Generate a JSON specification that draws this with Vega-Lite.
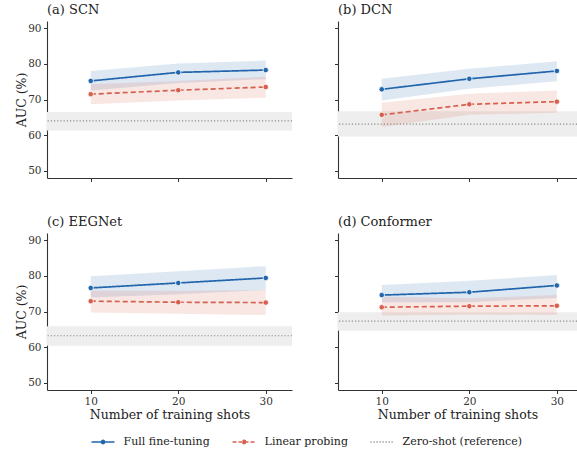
{
  "$schema": "https://vega.github.io/schema/vega-lite/v6.json",
  "padding": {"left": 15, "top": 4, "right": 0, "bottom": 0},
  "background": "white",
  "datasets": {
    "main": [
      {"model": "SCN", "method": "Full fine-tuning", "shots": 10, "mean": 75.2, "lo": 72.5, "hi": 78.0},
      {"model": "SCN", "method": "Full fine-tuning", "shots": 20, "mean": 77.6, "lo": 74.6, "hi": 80.1},
      {"model": "SCN", "method": "Full fine-tuning", "shots": 30, "mean": 78.25, "lo": 75.7, "hi": 80.9},
      {"model": "SCN", "method": "Linear probing", "shots": 10, "mean": 71.5, "lo": 68.65, "hi": 74.25},
      {"model": "SCN", "method": "Linear probing", "shots": 20, "mean": 72.6, "lo": 69.7, "hi": 75.2},
      {"model": "SCN", "method": "Linear probing", "shots": 30, "mean": 73.5, "lo": 70.5, "hi": 76.4},
      {"model": "DCN", "method": "Full fine-tuning", "shots": 10, "mean": 72.85, "lo": 69.7, "hi": 75.8},
      {"model": "DCN", "method": "Full fine-tuning", "shots": 20, "mean": 75.8, "lo": 73.0, "hi": 78.6},
      {"model": "DCN", "method": "Full fine-tuning", "shots": 30, "mean": 78.0, "lo": 75.1, "hi": 80.7},
      {"model": "DCN", "method": "Linear probing", "shots": 10, "mean": 65.7, "lo": 62.3, "hi": 69.1},
      {"model": "DCN", "method": "Linear probing", "shots": 20, "mean": 68.65, "lo": 65.7, "hi": 71.6},
      {"model": "DCN", "method": "Linear probing", "shots": 30, "mean": 69.4, "lo": 66.3, "hi": 72.5},
      {"model": "EEGNet", "method": "Full fine-tuning", "shots": 10, "mean": 76.6, "lo": 73.9, "hi": 79.9},
      {"model": "EEGNet", "method": "Full fine-tuning", "shots": 20, "mean": 78.0, "lo": 74.8, "hi": 81.3},
      {"model": "EEGNet", "method": "Full fine-tuning", "shots": 30, "mean": 79.4, "lo": 76.0, "hi": 82.7},
      {"model": "EEGNet", "method": "Linear probing", "shots": 10, "mean": 72.9, "lo": 69.7, "hi": 75.8},
      {"model": "EEGNet", "method": "Linear probing", "shots": 20, "mean": 72.6, "lo": 69.4, "hi": 75.8},
      {"model": "EEGNet", "method": "Linear probing", "shots": 30, "mean": 72.5, "lo": 69.0, "hi": 76.0},
      {"model": "Conformer", "method": "Full fine-tuning", "shots": 10, "mean": 74.6, "lo": 72.6, "hi": 77.4},
      {"model": "Conformer", "method": "Full fine-tuning", "shots": 20, "mean": 75.4, "lo": 72.6, "hi": 78.6},
      {"model": "Conformer", "method": "Full fine-tuning", "shots": 30, "mean": 77.3, "lo": 73.8, "hi": 80.2},
      {"model": "Conformer", "method": "Linear probing", "shots": 10, "mean": 71.2, "lo": 68.9, "hi": 74.1},
      {"model": "Conformer", "method": "Linear probing", "shots": 20, "mean": 71.5, "lo": 69.1, "hi": 73.7},
      {"model": "Conformer", "method": "Linear probing", "shots": 30, "mean": 71.6, "lo": 69.0, "hi": 74.6}
    ],
    "zs": [
      {"model": "SCN", "zs": 64.0, "lo": 61.3, "hi": 66.5},
      {"model": "DCN", "zs": 63.1, "lo": 59.6, "hi": 66.7},
      {"model": "EEGNet", "zs": 63.2, "lo": 60.4, "hi": 65.9},
      {"model": "Conformer", "zs": 67.3, "lo": 64.6, "hi": 69.8}
    ]
  },
  "vconcat": [
    {
      "hconcat": [
        {
          "title": "(a) SCN",
          "width": 245, "height": 157,
          "layer": [
            {"data": {"name": "zs"}, "transform": [{"filter": "datum.model === 'SCN'"}], "mark": {"type": "rect", "color": "#eeeeee"},
             "encoding": {"y": {"field": "lo", "type": "quantitative", "scale": {"domain": [48, 92], "nice": false, "zero": false}, "axis": {"values": [50, 60, 70, 80, 90], "title": "AUC (%)"}}, "y2": {"field": "hi"}}},
            {"data": {"name": "zs"}, "transform": [{"filter": "datum.model === 'SCN'"}], "mark": {"type": "rule", "color": "#8c8c8c", "strokeWidth": 1.2, "strokeDash": [1.2, 2]},
             "encoding": {"y": {"field": "zs", "type": "quantitative", "scale": {"domain": [48, 92], "nice": false, "zero": false}, "axis": {"values": [50, 60, 70, 80, 90], "title": "AUC (%)"}}}},
            {"data": {"name": "main"}, "transform": [{"filter": "datum.model === 'SCN'"}], "mark": {"type": "area", "opacity": 1, "fillOpacity": 0.15},
             "encoding": {"x": {"field": "shots", "type": "quantitative", "scale": {"domain": [5, 33], "nice": false, "zero": false}, "axis": {"values": [10, 20, 30], "labels": false, "title": null}},
               "y": {"field": "lo", "type": "quantitative", "scale": {"domain": [48, 92], "nice": false, "zero": false}, "axis": {"values": [50, 60, 70, 80, 90], "title": "AUC (%)"}}, "y2": {"field": "hi"},
               "fill": {"field": "method", "type": "nominal", "scale": {"domain": ["Full fine-tuning", "Linear probing"], "range": ["#2166ac", "#d6604d"]}, "legend": null}}},
            {"data": {"name": "main"}, "transform": [{"filter": "datum.model === 'SCN'"}], "mark": {"type": "line", "strokeWidth": 1.7},
             "encoding": {"x": {"field": "shots", "type": "quantitative", "scale": {"domain": [5, 33], "nice": false, "zero": false}, "axis": {"values": [10, 20, 30], "labels": false, "title": null}},
               "y": {"field": "mean", "type": "quantitative", "scale": {"domain": [48, 92], "nice": false, "zero": false}, "axis": {"values": [50, 60, 70, 80, 90], "title": "AUC (%)"}},
               "color": {"field": "method", "type": "nominal", "scale": {"domain": ["Full fine-tuning", "Linear probing", "Zero-shot (reference)"], "range": ["#2166ac", "#d6604d", "#8c8c8c"]},
                 "legend": {"encode": {"symbols": {"update": {
                     "shape": {"signal": "datum.value === 'Zero-shot (reference)' ? 'M-2.3,0H2.3' : 'M-2.3,0H2.3M0.32,0A0.32,0.32,0,1,1,-0.32,0A0.32,0.32,0,1,1,0.32,0Z'"},
                     "fill": {"signal": "datum.value === 'Zero-shot (reference)' ? 'transparent' : scale('color', datum.value)"},
                     "strokeDash": {"signal": "datum.value === 'Linear probing' ? [4, 2] : datum.value === 'Zero-shot (reference)' ? [1.2, 1.8] : [1, 0]"},
                     "opacity": {"value": 1}}}}}},
               "strokeDash": {"field": "method", "type": "nominal", "scale": {"domain": ["Full fine-tuning", "Linear probing"], "range": [[1, 0], [5, 3]]}, "legend": null}}},
            {"data": {"name": "main"}, "transform": [{"filter": "datum.model === 'SCN'"}], "mark": {"type": "point", "filled": true, "size": 30, "stroke": "white", "strokeWidth": 0.8, "opacity": 1},
             "encoding": {"x": {"field": "shots", "type": "quantitative", "scale": {"domain": [5, 33], "nice": false, "zero": false}, "axis": {"values": [10, 20, 30], "labels": false, "title": null}},
               "y": {"field": "mean", "type": "quantitative", "scale": {"domain": [48, 92], "nice": false, "zero": false}, "axis": {"values": [50, 60, 70, 80, 90], "title": "AUC (%)"}},
               "fill": {"field": "method", "type": "nominal", "scale": {"domain": ["Full fine-tuning", "Linear probing"], "range": ["#2166ac", "#d6604d"]}, "legend": null}}}
          ]
        },
        {
          "title": "(b) DCN",
          "width": 239, "height": 157,
          "layer": [
            {"data": {"name": "zs"}, "transform": [{"filter": "datum.model === 'DCN'"}], "mark": {"type": "rect", "color": "#eeeeee"},
             "encoding": {"y": {"field": "lo", "type": "quantitative", "scale": {"domain": [48, 92], "nice": false, "zero": false}, "axis": {"values": [50, 60, 70, 80, 90], "labels": false, "title": null}}, "y2": {"field": "hi"}}},
            {"data": {"name": "zs"}, "transform": [{"filter": "datum.model === 'DCN'"}], "mark": {"type": "rule", "color": "#8c8c8c", "strokeWidth": 1.2, "strokeDash": [1.2, 2]},
             "encoding": {"y": {"field": "zs", "type": "quantitative", "scale": {"domain": [48, 92], "nice": false, "zero": false}, "axis": {"values": [50, 60, 70, 80, 90], "labels": false, "title": null}}}},
            {"data": {"name": "main"}, "transform": [{"filter": "datum.model === 'DCN'"}], "mark": {"type": "area", "opacity": 1, "fillOpacity": 0.15},
             "encoding": {"x": {"field": "shots", "type": "quantitative", "scale": {"domain": [5, 32.3], "nice": false, "zero": false}, "axis": {"values": [10, 20, 30], "labels": false, "title": null}},
               "y": {"field": "lo", "type": "quantitative", "scale": {"domain": [48, 92], "nice": false, "zero": false}, "axis": {"values": [50, 60, 70, 80, 90], "labels": false, "title": null}}, "y2": {"field": "hi"},
               "fill": {"field": "method", "type": "nominal", "scale": {"domain": ["Full fine-tuning", "Linear probing"], "range": ["#2166ac", "#d6604d"]}, "legend": null}}},
            {"data": {"name": "main"}, "transform": [{"filter": "datum.model === 'DCN'"}], "mark": {"type": "line", "strokeWidth": 1.7},
             "encoding": {"x": {"field": "shots", "type": "quantitative", "scale": {"domain": [5, 32.3], "nice": false, "zero": false}, "axis": {"values": [10, 20, 30], "labels": false, "title": null}},
               "y": {"field": "mean", "type": "quantitative", "scale": {"domain": [48, 92], "nice": false, "zero": false}, "axis": {"values": [50, 60, 70, 80, 90], "labels": false, "title": null}},
               "color": {"field": "method", "type": "nominal", "scale": {"domain": ["Full fine-tuning", "Linear probing", "Zero-shot (reference)"], "range": ["#2166ac", "#d6604d", "#8c8c8c"]},
                 "legend": {"encode": {"symbols": {"update": {
                     "shape": {"signal": "datum.value === 'Zero-shot (reference)' ? 'M-2.3,0H2.3' : 'M-2.3,0H2.3M0.32,0A0.32,0.32,0,1,1,-0.32,0A0.32,0.32,0,1,1,0.32,0Z'"},
                     "fill": {"signal": "datum.value === 'Zero-shot (reference)' ? 'transparent' : scale('color', datum.value)"},
                     "strokeDash": {"signal": "datum.value === 'Linear probing' ? [4, 2] : datum.value === 'Zero-shot (reference)' ? [1.2, 1.8] : [1, 0]"},
                     "opacity": {"value": 1}}}}}},
               "strokeDash": {"field": "method", "type": "nominal", "scale": {"domain": ["Full fine-tuning", "Linear probing"], "range": [[1, 0], [5, 3]]}, "legend": null}}},
            {"data": {"name": "main"}, "transform": [{"filter": "datum.model === 'DCN'"}], "mark": {"type": "point", "filled": true, "size": 30, "stroke": "white", "strokeWidth": 0.8, "opacity": 1},
             "encoding": {"x": {"field": "shots", "type": "quantitative", "scale": {"domain": [5, 32.3], "nice": false, "zero": false}, "axis": {"values": [10, 20, 30], "labels": false, "title": null}},
               "y": {"field": "mean", "type": "quantitative", "scale": {"domain": [48, 92], "nice": false, "zero": false}, "axis": {"values": [50, 60, 70, 80, 90], "labels": false, "title": null}},
               "fill": {"field": "method", "type": "nominal", "scale": {"domain": ["Full fine-tuning", "Linear probing"], "range": ["#2166ac", "#d6604d"]}, "legend": null}}}
          ]
        }
      ]
    },
    {
      "hconcat": [
        {
          "title": "(c) EEGNet",
          "width": 245, "height": 157,
          "layer": [
            {"data": {"name": "zs"}, "transform": [{"filter": "datum.model === 'EEGNet'"}], "mark": {"type": "rect", "color": "#eeeeee"},
             "encoding": {"y": {"field": "lo", "type": "quantitative", "scale": {"domain": [48, 92], "nice": false, "zero": false}, "axis": {"values": [50, 60, 70, 80, 90], "title": "AUC (%)"}}, "y2": {"field": "hi"}}},
            {"data": {"name": "zs"}, "transform": [{"filter": "datum.model === 'EEGNet'"}], "mark": {"type": "rule", "color": "#8c8c8c", "strokeWidth": 1.2, "strokeDash": [1.2, 2]},
             "encoding": {"y": {"field": "zs", "type": "quantitative", "scale": {"domain": [48, 92], "nice": false, "zero": false}, "axis": {"values": [50, 60, 70, 80, 90], "title": "AUC (%)"}}}},
            {"data": {"name": "main"}, "transform": [{"filter": "datum.model === 'EEGNet'"}], "mark": {"type": "area", "opacity": 1, "fillOpacity": 0.15},
             "encoding": {"x": {"field": "shots", "type": "quantitative", "scale": {"domain": [5, 33], "nice": false, "zero": false}, "axis": {"values": [10, 20, 30], "title": "Number of training shots"}},
               "y": {"field": "lo", "type": "quantitative", "scale": {"domain": [48, 92], "nice": false, "zero": false}, "axis": {"values": [50, 60, 70, 80, 90], "title": "AUC (%)"}}, "y2": {"field": "hi"},
               "fill": {"field": "method", "type": "nominal", "scale": {"domain": ["Full fine-tuning", "Linear probing"], "range": ["#2166ac", "#d6604d"]}, "legend": null}}},
            {"data": {"name": "main"}, "transform": [{"filter": "datum.model === 'EEGNet'"}], "mark": {"type": "line", "strokeWidth": 1.7},
             "encoding": {"x": {"field": "shots", "type": "quantitative", "scale": {"domain": [5, 33], "nice": false, "zero": false}, "axis": {"values": [10, 20, 30], "title": "Number of training shots"}},
               "y": {"field": "mean", "type": "quantitative", "scale": {"domain": [48, 92], "nice": false, "zero": false}, "axis": {"values": [50, 60, 70, 80, 90], "title": "AUC (%)"}},
               "color": {"field": "method", "type": "nominal", "scale": {"domain": ["Full fine-tuning", "Linear probing", "Zero-shot (reference)"], "range": ["#2166ac", "#d6604d", "#8c8c8c"]},
                 "legend": {"encode": {"symbols": {"update": {
                     "shape": {"signal": "datum.value === 'Zero-shot (reference)' ? 'M-2.3,0H2.3' : 'M-2.3,0H2.3M0.32,0A0.32,0.32,0,1,1,-0.32,0A0.32,0.32,0,1,1,0.32,0Z'"},
                     "fill": {"signal": "datum.value === 'Zero-shot (reference)' ? 'transparent' : scale('color', datum.value)"},
                     "strokeDash": {"signal": "datum.value === 'Linear probing' ? [4, 2] : datum.value === 'Zero-shot (reference)' ? [1.2, 1.8] : [1, 0]"},
                     "opacity": {"value": 1}}}}}},
               "strokeDash": {"field": "method", "type": "nominal", "scale": {"domain": ["Full fine-tuning", "Linear probing"], "range": [[1, 0], [5, 3]]}, "legend": null}}},
            {"data": {"name": "main"}, "transform": [{"filter": "datum.model === 'EEGNet'"}], "mark": {"type": "point", "filled": true, "size": 30, "stroke": "white", "strokeWidth": 0.8, "opacity": 1},
             "encoding": {"x": {"field": "shots", "type": "quantitative", "scale": {"domain": [5, 33], "nice": false, "zero": false}, "axis": {"values": [10, 20, 30], "title": "Number of training shots"}},
               "y": {"field": "mean", "type": "quantitative", "scale": {"domain": [48, 92], "nice": false, "zero": false}, "axis": {"values": [50, 60, 70, 80, 90], "title": "AUC (%)"}},
               "fill": {"field": "method", "type": "nominal", "scale": {"domain": ["Full fine-tuning", "Linear probing"], "range": ["#2166ac", "#d6604d"]}, "legend": null}}}
          ]
        },
        {
          "title": "(d) Conformer",
          "width": 239, "height": 157,
          "layer": [
            {"data": {"name": "zs"}, "transform": [{"filter": "datum.model === 'Conformer'"}], "mark": {"type": "rect", "color": "#eeeeee"},
             "encoding": {"y": {"field": "lo", "type": "quantitative", "scale": {"domain": [48, 92], "nice": false, "zero": false}, "axis": {"values": [50, 60, 70, 80, 90], "labels": false, "title": null}}, "y2": {"field": "hi"}}},
            {"data": {"name": "zs"}, "transform": [{"filter": "datum.model === 'Conformer'"}], "mark": {"type": "rule", "color": "#8c8c8c", "strokeWidth": 1.2, "strokeDash": [1.2, 2]},
             "encoding": {"y": {"field": "zs", "type": "quantitative", "scale": {"domain": [48, 92], "nice": false, "zero": false}, "axis": {"values": [50, 60, 70, 80, 90], "labels": false, "title": null}}}},
            {"data": {"name": "main"}, "transform": [{"filter": "datum.model === 'Conformer'"}], "mark": {"type": "area", "opacity": 1, "fillOpacity": 0.15},
             "encoding": {"x": {"field": "shots", "type": "quantitative", "scale": {"domain": [5, 32.3], "nice": false, "zero": false}, "axis": {"values": [10, 20, 30], "title": "Number of training shots"}},
               "y": {"field": "lo", "type": "quantitative", "scale": {"domain": [48, 92], "nice": false, "zero": false}, "axis": {"values": [50, 60, 70, 80, 90], "labels": false, "title": null}}, "y2": {"field": "hi"},
               "fill": {"field": "method", "type": "nominal", "scale": {"domain": ["Full fine-tuning", "Linear probing"], "range": ["#2166ac", "#d6604d"]}, "legend": null}}},
            {"data": {"name": "main"}, "transform": [{"filter": "datum.model === 'Conformer'"}], "mark": {"type": "line", "strokeWidth": 1.7},
             "encoding": {"x": {"field": "shots", "type": "quantitative", "scale": {"domain": [5, 32.3], "nice": false, "zero": false}, "axis": {"values": [10, 20, 30], "title": "Number of training shots"}},
               "y": {"field": "mean", "type": "quantitative", "scale": {"domain": [48, 92], "nice": false, "zero": false}, "axis": {"values": [50, 60, 70, 80, 90], "labels": false, "title": null}},
               "color": {"field": "method", "type": "nominal", "scale": {"domain": ["Full fine-tuning", "Linear probing", "Zero-shot (reference)"], "range": ["#2166ac", "#d6604d", "#8c8c8c"]},
                 "legend": {"encode": {"symbols": {"update": {
                     "shape": {"signal": "datum.value === 'Zero-shot (reference)' ? 'M-2.3,0H2.3' : 'M-2.3,0H2.3M0.32,0A0.32,0.32,0,1,1,-0.32,0A0.32,0.32,0,1,1,0.32,0Z'"},
                     "fill": {"signal": "datum.value === 'Zero-shot (reference)' ? 'transparent' : scale('color', datum.value)"},
                     "strokeDash": {"signal": "datum.value === 'Linear probing' ? [4, 2] : datum.value === 'Zero-shot (reference)' ? [1.2, 1.8] : [1, 0]"},
                     "opacity": {"value": 1}}}}}},
               "strokeDash": {"field": "method", "type": "nominal", "scale": {"domain": ["Full fine-tuning", "Linear probing"], "range": [[1, 0], [5, 3]]}, "legend": null}}},
            {"data": {"name": "main"}, "transform": [{"filter": "datum.model === 'Conformer'"}], "mark": {"type": "point", "filled": true, "size": 30, "stroke": "white", "strokeWidth": 0.8, "opacity": 1},
             "encoding": {"x": {"field": "shots", "type": "quantitative", "scale": {"domain": [5, 32.3], "nice": false, "zero": false}, "axis": {"values": [10, 20, 30], "title": "Number of training shots"}},
               "y": {"field": "mean", "type": "quantitative", "scale": {"domain": [48, 92], "nice": false, "zero": false}, "axis": {"values": [50, 60, 70, 80, 90], "labels": false, "title": null}},
               "fill": {"field": "method", "type": "nominal", "scale": {"domain": ["Full fine-tuning", "Linear probing"], "range": ["#2166ac", "#d6604d"]}, "legend": null}}}
          ]
        }
      ],
      "spacing": 41
    }
  ],
  "spacing": 34,
  "config": {
    "concat": {"spacing": 41},
    "view": {"stroke": null},
    "font": "DejaVu Serif",
    "title": {"anchor": "start", "frame": "group", "offset": 4, "fontSize": 13, "font": "DejaVu Serif", "fontWeight": "normal", "color": "#222222"},
    "axis": {"grid": false, "domainColor": "#333333", "domainWidth": 1.1, "tickColor": "#333333", "tickSize": 3.5, "tickWidth": 1, "labelColor": "#333333", "labelFont": "DejaVu Serif", "labelFontSize": 10.5, "labelPadding": 2.5, "titleFont": "DejaVu Serif", "titleFontWeight": "normal", "titleFontSize": 12.5, "titleColor": "#222222"},
    "axisX": {"titlePadding": 2},
    "axisY": {"titlePadding": -1},
    "legend": {
      "orient": "none", "legendX": 50, "legendY": 415, "direction": "horizontal", "title": null, "padding": 0,
      "symbolSize": 100, "symbolStrokeWidth": 1.6, "labelOffset": 14.6, "columnPadding": 19,
      "labelFontSize": 11, "labelFont": "DejaVu Serif", "labelColor": "#222222"
    }
  }
}
